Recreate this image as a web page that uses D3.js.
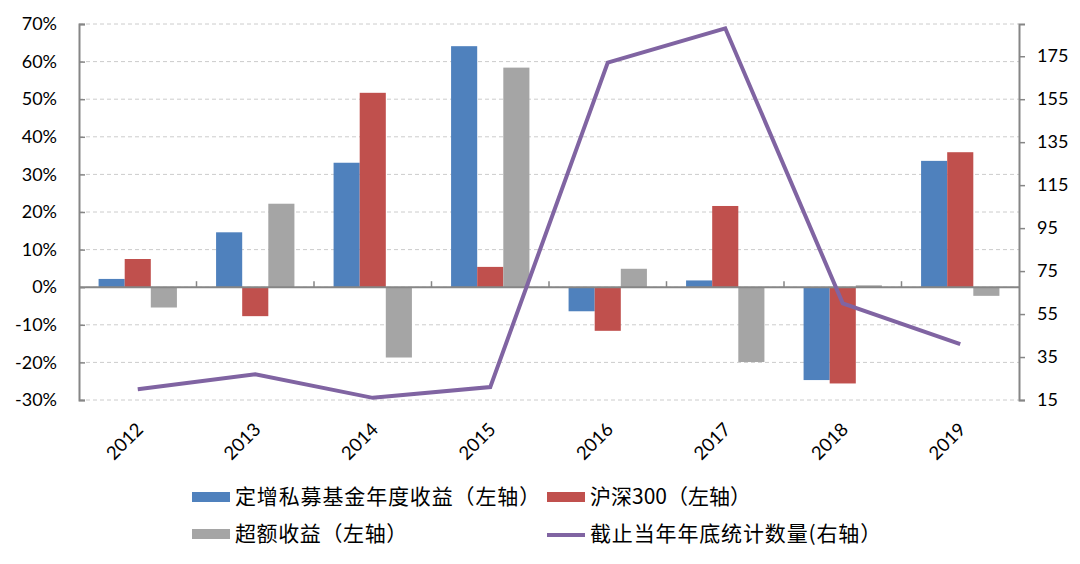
<!DOCTYPE html>
<html><head><meta charset="utf-8">
<script src="https://cdn.jsdelivr.net/npm/d3@7"></script>
<style>
html,body{margin:0;padding:0;background:#fff;}
svg{display:block;}
</style></head>
<body>
<svg id="chart" width="1080" height="564"></svg>
<script>
const years = ["2012","2013","2014","2015","2016","2017","2018","2019"];
const privateFund = [0.022, 0.146, 0.331, 0.641, -0.064, 0.018, -0.247, 0.336];
const hs300 = [0.075, -0.077, 0.517, 0.054, -0.116, 0.216, -0.256, 0.359];
const excess = [-0.054, 0.222, -0.187, 0.584, 0.049, -0.199, 0.005, -0.023];
const fundCount = [20, 27, 16, 21, 172, 188, 60, 41];
const leftTicks = [-0.3,-0.2,-0.1,0,0.1,0.2,0.3,0.4,0.5,0.6,0.7];
const rightTicks = [15,35,55,75,95,115,135,155,175];
const seriesNames = ["定增私募基金年度收益（左轴）","沪深300（左轴）","超额收益（左轴）"];
const lineName = "截止当年年底统计数量(右轴）";
const colors = ["#4F81BD","#C0504D","#A5A5A5"];
const lineColor = "#8064A2";

const svg = d3.select("#chart");
const L = 79, R = 1019, T = 24, B = 400;
const numFont = "Lato, 'Liberation Sans', Arial, sans-serif";
const cjkFont = "'Noto Sans CJK SC', sans-serif";

const x = d3.scaleBand().domain(years).range([L, R]).paddingInner(0).paddingOuter(0);
const xs = d3.scaleBand().domain([0,1,2]).range([0, x.bandwidth()]).paddingInner(0).paddingOuter(0.75);
const yL = d3.scaleLinear().domain([-0.3, 0.7]).range([B, T]);
const yR = d3.scaleLinear().domain([15, 190]).range([B, T]);

// gridlines
svg.append("g").selectAll("line").data(leftTicks).join("line")
  .attr("x1", L).attr("x2", R)
  .attr("y1", d => yL(d)).attr("y2", d => yL(d))
  .attr("stroke", "#cccccc").attr("stroke-width", 1).attr("stroke-dasharray", "4,3");

// left axis
const gl = svg.append("g").attr("transform", `translate(${L},0)`)
  .call(d3.axisLeft(yL).tickValues(leftTicks).tickSize(-6).tickPadding(22)
    .tickFormat(d => Math.round(d*100) + "%"));
gl.select(".domain").attr("stroke", "#868686").attr("stroke-width", 2);
gl.selectAll(".tick line").attr("stroke", "#868686").attr("stroke-width", 1.5);
gl.selectAll("text").attr("font-family", numFont).attr("font-size", 18).attr("fill", "#000");

// right axis
const gr = svg.append("g").attr("transform", `translate(${R},0)`)
  .call(d3.axisRight(yR).tickValues(rightTicks).tickSize(6).tickPadding(12));
gr.select(".domain").attr("stroke", "#868686").attr("stroke-width", 2);
gr.selectAll(".tick line").attr("stroke", "#868686").attr("stroke-width", 1.5);
gr.selectAll("text").attr("font-family", numFont).attr("font-size", 18).attr("fill", "#000");

// bars
const seriesData = [privateFund, hs300, excess];
seriesData.forEach((vals, si) => {
  svg.append("g").selectAll("rect").data(vals).join("rect")
    .attr("x", (d, i) => x(years[i]) + xs(si))
    .attr("width", xs.bandwidth())
    .attr("y", d => yL(Math.max(0, d)))
    .attr("height", d => Math.abs(yL(d) - yL(0)))
    .attr("fill", colors[si]);
});

// zero (category) axis
svg.append("line").attr("x1", L).attr("x2", R).attr("y1", yL(0)).attr("y2", yL(0))
  .attr("stroke", "#868686").attr("stroke-width", 2);
svg.append("g").selectAll("line").data(years.slice(1)).join("line")
  .attr("x1", d => x(d)).attr("x2", d => x(d))
  .attr("y1", yL(0)).attr("y2", yL(0) - 6)
  .attr("stroke", "#868686").attr("stroke-width", 1.5);

// x labels
svg.append("g").selectAll("text").data(years).join("text")
  .attr("transform", d => `translate(${x(d) + x.bandwidth()/2 + 2},${426}) rotate(-45)`)
  .attr("text-anchor", "end").attr("dy", "0.35em")
  .attr("font-family", numFont).attr("font-size", 18.5).attr("fill", "#000")
  .text(d => d);

// line
const line = d3.line()
  .x((d, i) => x(years[i]) + x.bandwidth()/2)
  .y(d => yR(d));
svg.append("path").datum(fundCount).attr("d", line)
  .attr("fill", "none").attr("stroke", lineColor).attr("stroke-width", 4);

// legend
const legendItems = [
  {name: seriesNames[0], type: "rect", color: colors[0], x: 192, y: 497, w: 306},
  {name: seriesNames[1], type: "rect", color: colors[1], x: 547, y: 497, w: 160},
  {name: seriesNames[2], type: "rect", color: colors[2], x: 192, y: 534, w: 173},
  {name: lineName, type: "line", color: lineColor, x: 547, y: 534, w: 292}
];
const lg = svg.append("g");
legendItems.forEach(it => {
  if (it.type === "rect") {
    lg.append("rect").attr("x", it.x).attr("y", it.y - 5).attr("width", 38).attr("height", 10).attr("fill", it.color);
  } else {
    lg.append("line").attr("x1", it.x).attr("x2", it.x + 38).attr("y1", it.y + 1).attr("y2", it.y + 1)
      .attr("stroke", it.color).attr("stroke-width", 4);
  }
  const t = lg.append("text").attr("x", it.x + 43).attr("y", it.y).attr("dy", "0.35em")
    .attr("font-family", cjkFont).attr("font-size", 21).attr("fill", "#000")
    .text(it.name);
  const len = t.node().getComputedTextLength();
  const n = Array.from(it.name).length;
  const ls = Math.max(0, (it.w - len) / n);
  t.style("letter-spacing", ls + "px");
});
</script>
</body></html>
